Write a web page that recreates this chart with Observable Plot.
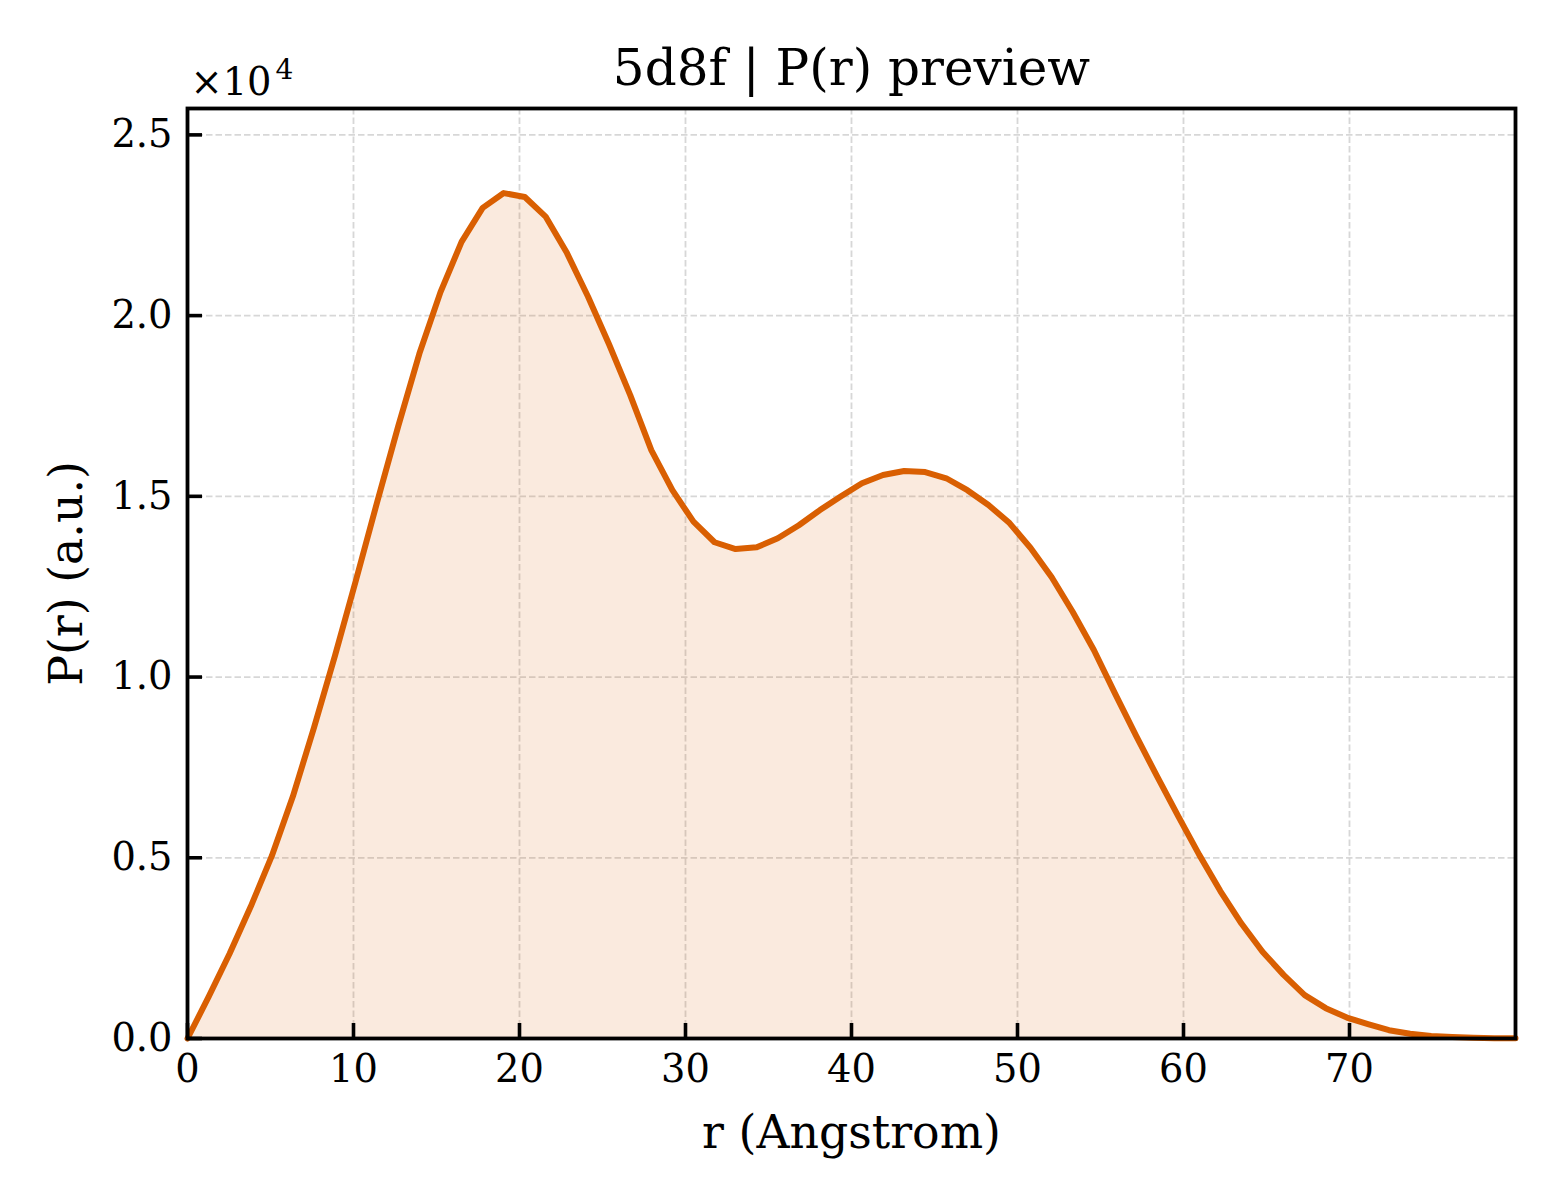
<!DOCTYPE html>
<html>
<head>
<meta charset="utf-8">
<script src="https://cdn.jsdelivr.net/npm/d3@7"></script>
<script src="https://cdn.jsdelivr.net/npm/@observablehq/plot@0.6"></script>
<style>
  html, body { margin: 0; padding: 0; background: #fff; }
  #chart svg { display: block; }
</style>
</head>
<body>
<div id="chart"></div>
<script>
const rValues = [0, 1.27, 2.54, 3.81, 5.08, 6.35, 7.62, 8.89, 10.16, 11.43, 12.70, 13.97, 15.24, 16.51, 17.78, 19.05,
  20.32, 21.59, 22.86, 24.13, 25.40, 26.67, 27.94, 29.21, 30.48, 31.75, 33.02, 34.29, 35.56, 36.83, 38.10, 39.37,
  40.63, 41.90, 43.17, 44.44, 45.71, 46.98, 48.25, 49.52, 50.79, 52.06, 53.33, 54.60, 55.87, 57.14, 58.41, 59.68,
  60.95, 62.22, 63.49, 64.76, 66.03, 67.30, 68.57, 69.84, 71.11, 72.38, 73.65, 74.92, 76.19, 77.46, 78.73, 80.00];
const pValues = [0, 1150, 2350, 3650, 5050, 6700, 8600, 10600, 12700, 14850, 16950, 18950, 20650, 22040, 22980, 23390,
  23280, 22730, 21730, 20520, 19200, 17800, 16280, 15170, 14300, 13730, 13540, 13590, 13840, 14200, 14620, 15000,
  15360, 15590, 15700, 15670, 15500, 15170, 14760, 14260, 13570, 12760, 11800, 10750, 9550, 8380, 7250, 6150,
  5080, 4080, 3180, 2400, 1760, 1200, 840, 580, 400, 230, 130, 70, 40, 20, 10, 5];
const xTicks = [0, 10, 20, 30, 40, 50, 60, 70];
const yTicks = [0, 5000, 10000, 15000, 20000, 25000];
const titleText = "5d8f | P(r) preview";
const xLabel = "r (Angstrom)";
const yLabel = "P(r) (a.u.)";
const offsetBase = "×10";
const offsetExp = "4";

const data = rValues.map((r, i) => ({r, p: pValues[i]}));
const font = "DejaVu Serif";
const orange = "#d95f02";

const chart = Plot.plot({
  width: 1560,
  height: 1200,
  marginLeft: 187,
  marginRight: 45,
  marginTop: 108,
  marginBottom: 162,
  style: {fontFamily: font, background: "#fff", color: "#000"},
  x: {domain: [0, 80]},
  y: {domain: [0, 25730]},
  marks: [
    Plot.ruleX(xTicks, {x: d => d, stroke: "#b0b0b0", strokeOpacity: 0.5, strokeWidth: 1.8, strokeDasharray: "6.5,3"}),
    Plot.ruleY(yTicks, {y: d => d, stroke: "#b0b0b0", strokeOpacity: 0.5, strokeWidth: 1.8, strokeDasharray: "6.5,3"}),
    Plot.areaY(data, {x: "r", y: "p", fill: orange, fillOpacity: 0.13}),
    Plot.line(data, {x: "r", y: "p", stroke: orange, strokeWidth: 6}),
    Plot.frame({stroke: "#000", strokeWidth: 3.8}),
    Plot.tickX(xTicks, {x: d => d, stroke: "#000", strokeWidth: 3.6, insetTop: 915}),
    Plot.tickY(yTicks, {y: d => d, stroke: "#000", strokeWidth: 3.6, insetRight: 1313}),
    Plot.axisX(xTicks, {tickSize: 0, tickPadding: 16, fontSize: 38.4, label: null}),
    Plot.axisY(yTicks, {tickSize: 0, tickPadding: 15, fontSize: 38.4, label: null, tickFormat: d => (d / 1e4).toFixed(1)}),
    Plot.text([titleText], {frameAnchor: "top", dy: -40, lineAnchor: "middle", fontSize: 50, fill: "#000"}),
    Plot.text([xLabel], {frameAnchor: "bottom", dy: 95, lineAnchor: "middle", fontSize: 45.8, fill: "#000"}),
    Plot.text([yLabel], {frameAnchor: "left", dx: -120, rotate: -90, lineAnchor: "middle", textAnchor: "middle", fontSize: 45.8, fill: "#000"}),
    Plot.text([offsetBase], {frameAnchor: "top-left", dx: 3, dy: -26, textAnchor: "start", lineAnchor: "middle", fontSize: 38.4, fill: "#000"}),
    Plot.text([offsetExp], {frameAnchor: "top-left", dx: 88, dy: -38, textAnchor: "start", lineAnchor: "middle", fontSize: 28, fill: "#000"})
  ]
});
document.getElementById("chart").appendChild(chart);
</script>
</body>
</html>
